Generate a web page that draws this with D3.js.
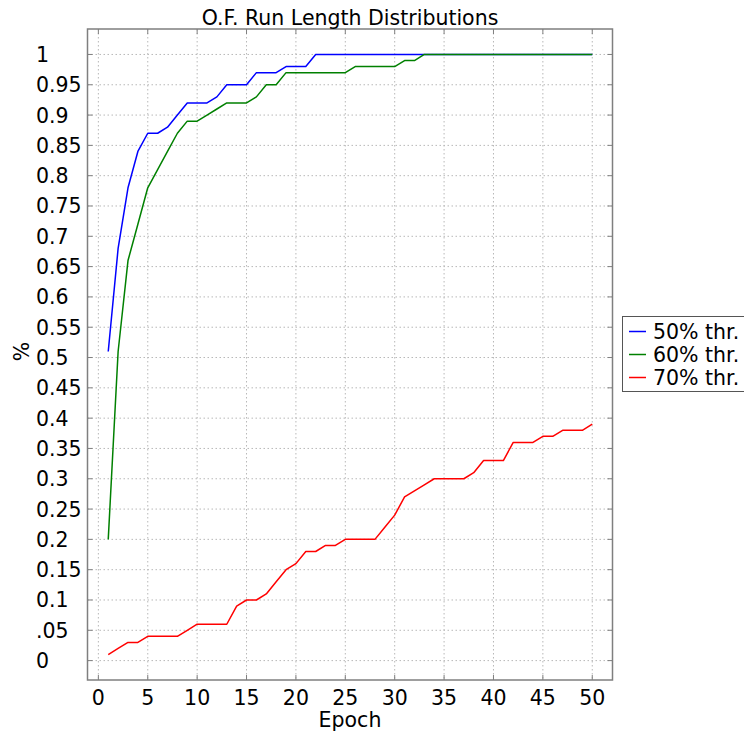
<!DOCTYPE html>
<html>
<head>
<meta charset="utf-8">
<script src="https://cdn.jsdelivr.net/npm/d3@7"></script>
<style>
  html, body { margin: 0; padding: 0; background: #fff; }
  svg { display: block; font-family: "DejaVu Sans", sans-serif; }
</style>
</head>
<body>
<svg id="chart" width="744" height="733"></svg>
<script>
// Run length distributions per threshold, epochs 1..50
const epochs = d3.range(1, 51);
const seriesNames = ["50% thr.", "60% thr.", "70% thr."];
const seriesColors = ["#0000ff", "#008000", "#ff0000"];

const thr50 = [0.51, 0.68, 0.78, 0.84, 0.87, 0.87, 0.88, 0.90, 0.92, 0.92,
               0.92, 0.93, 0.95, 0.95, 0.95, 0.97, 0.97, 0.97, 0.98, 0.98,
               0.98, 1.00, 1.00, 1.00, 1.00, 1.00, 1.00, 1.00, 1.00, 1.00,
               1.00, 1.00, 1.00, 1.00, 1.00, 1.00, 1.00, 1.00, 1.00, 1.00,
               1.00, 1.00, 1.00, 1.00, 1.00, 1.00, 1.00, 1.00, 1.00, 1.00];
const thr60 = [0.20, 0.51, 0.66, 0.72, 0.78, 0.81, 0.84, 0.87, 0.89, 0.89,
               0.90, 0.91, 0.92, 0.92, 0.92, 0.93, 0.95, 0.95, 0.97, 0.97,
               0.97, 0.97, 0.97, 0.97, 0.97, 0.98, 0.98, 0.98, 0.98, 0.98,
               0.99, 0.99, 1.00, 1.00, 1.00, 1.00, 1.00, 1.00, 1.00, 1.00,
               1.00, 1.00, 1.00, 1.00, 1.00, 1.00, 1.00, 1.00, 1.00, 1.00];
const thr70 = [0.01, 0.02, 0.03, 0.03, 0.04, 0.04, 0.04, 0.04, 0.05, 0.06,
               0.06, 0.06, 0.06, 0.09, 0.10, 0.10, 0.11, 0.13, 0.15, 0.16,
               0.18, 0.18, 0.19, 0.19, 0.20, 0.20, 0.20, 0.20, 0.22, 0.24,
               0.27, 0.28, 0.29, 0.30, 0.30, 0.30, 0.30, 0.31, 0.33, 0.33,
               0.33, 0.36, 0.36, 0.36, 0.37, 0.37, 0.38, 0.38, 0.38, 0.39];

const xTicks = d3.range(0, 51, 5);
const yTicks = d3.range(0, 21).map(i => i * 0.05);
const yTickLabels = ["0", ".05", "0.1", "0.15", "0.2", "0.25", "0.3", "0.35", "0.4",
                     "0.45", "0.5", "0.55", "0.6", "0.65", "0.7", "0.75", "0.8",
                     "0.85", "0.9", "0.95", "1"];

const svg = d3.select("#chart");
const box = { left: 87.5, right: 612.5, top: 29, bottom: 680 };

const x = d3.scaleLinear().domain([-1.1, 52.05]).range([box.left, box.right]);
const y = d3.scaleLinear().domain([-0.032, 1.042]).range([box.bottom, box.top]);

const gridColor = "#b8b8b8";
const frameColor = "#7f7f7f";

// grid
const grid = svg.append("g");
grid.selectAll(".gx").data(xTicks).join("line")
  .attr("x1", d => x(d)).attr("x2", d => x(d))
  .attr("y1", box.top).attr("y2", box.bottom)
  .attr("stroke", gridColor).attr("stroke-width", 1).attr("stroke-dasharray", "1.5,2.5");
grid.selectAll(".gy").data(yTicks).join("line")
  .attr("x1", box.left).attr("x2", box.right)
  .attr("y1", d => y(d)).attr("y2", d => y(d))
  .attr("stroke", gridColor).attr("stroke-width", 1).attr("stroke-dasharray", "1.5,2.5");

// inward tick marks on all four sides
const tl = 5;
const ticks = svg.append("g").attr("stroke", frameColor).attr("stroke-width", 1);
xTicks.forEach(d => {
  ticks.append("line").attr("x1", x(d)).attr("x2", x(d)).attr("y1", box.bottom).attr("y2", box.bottom - tl);
  ticks.append("line").attr("x1", x(d)).attr("x2", x(d)).attr("y1", box.top).attr("y2", box.top + tl);
});
yTicks.forEach(d => {
  ticks.append("line").attr("x1", box.left).attr("x2", box.left + tl).attr("y1", y(d)).attr("y2", y(d));
  ticks.append("line").attr("x1", box.right).attr("x2", box.right - tl).attr("y1", y(d)).attr("y2", y(d));
});

// series lines
const allSeries = [thr50, thr60, thr70];
const line = d3.line().x((d, i) => x(epochs[i])).y(d => y(d));
svg.append("g").selectAll("path").data(allSeries).join("path")
  .attr("d", d => line(d))
  .attr("fill", "none")
  .attr("stroke", (d, i) => seriesColors[i])
  .attr("stroke-width", 1.5)
  .attr("stroke-linejoin", "round");

// frame
svg.append("rect")
  .attr("x", box.left).attr("y", box.top)
  .attr("width", box.right - box.left).attr("height", box.bottom - box.top)
  .attr("fill", "none").attr("stroke", frameColor).attr("stroke-width", 1.5);

// tick labels
svg.append("g").selectAll("text").data(xTicks).join("text")
  .attr("x", d => x(d)).attr("y", 705)
  .attr("text-anchor", "middle")
  .attr("font-size", 20.5).attr("fill", "#000")
  .text(d => d);
svg.append("g").selectAll("text").data(yTicks).join("text")
  .attr("x", 36).attr("y", d => y(d) + 7.5)
  .attr("text-anchor", "start")
  .attr("font-size", 20.5).attr("fill", "#000")
  .text((d, i) => yTickLabels[i]);

// titles
svg.append("text").attr("x", (box.left + box.right) / 2).attr("y", 25)
  .attr("text-anchor", "middle").attr("font-size", 20.5).text("O.F. Run Length Distributions");
svg.append("text").attr("x", (box.left + box.right) / 2).attr("y", 727)
  .attr("text-anchor", "middle").attr("font-size", 20.5).text("Epoch");
svg.append("text")
  .attr("transform", `translate(29, ${y(0.51)}) rotate(-90)`)
  .attr("text-anchor", "middle").attr("font-size", 20.5).text("%");

// legend
const lg = svg.append("g");
lg.append("rect").attr("x", 622.5).attr("y", 316.5).attr("width", 140).attr("height", 75)
  .attr("fill", "#fff").attr("stroke", "#555").attr("stroke-width", 1);
seriesNames.forEach((name, i) => {
  const cy = 331.5 + i * 23;
  lg.append("line").attr("x1", 629).attr("x2", 646).attr("y1", cy).attr("y2", cy)
    .attr("stroke", seriesColors[i]).attr("stroke-width", 1.5);
  lg.append("text").attr("x", 653).attr("y", cy + 7.5)
    .attr("font-size", 20.5).attr("fill", "#000").text(name);
});
</script>
</body>
</html>
